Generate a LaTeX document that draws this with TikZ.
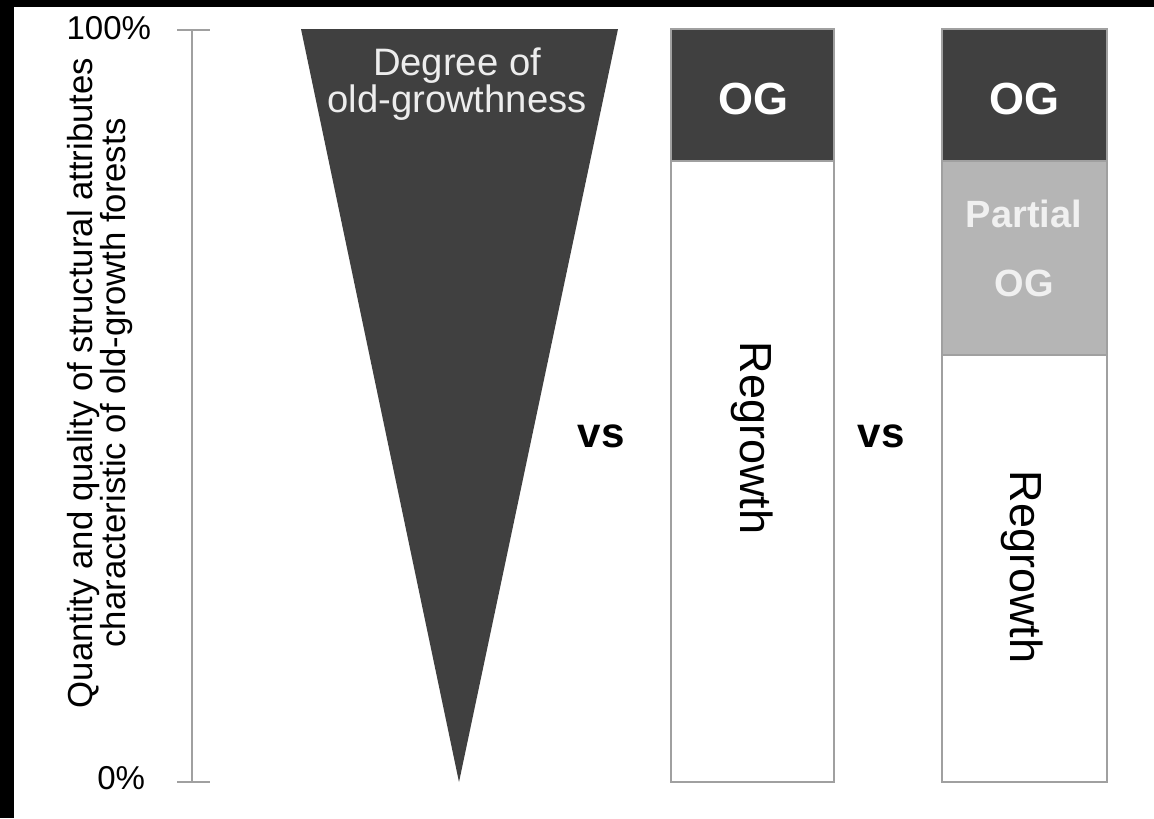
\documentclass[tikz,border=0pt]{standalone}
\usepackage{fontspec}
\setmainfont{Liberation Sans}
\usepackage{xcolor}
\usepackage{tikz}
\definecolor{ogdark}{HTML}{404040}
\definecolor{ogpart}{HTML}{B5B5B5}
\definecolor{rimgray}{HTML}{A0A0A0}

\begin{document}
\begin{tikzpicture}[x=0.025cm,y=-0.025cm,
	rim/.style={draw=rimgray, line width=1.3pt},
	boldlbl/.style={font=\fontsize{30}{34}\selectfont\bfseries},
	regrow/.style={font=\fontsize{32}{36}\selectfont, rotate=-90}]
	\useasboundingbox (0,0) rectangle (1154,818);
	\fill[black] (0,0) rectangle (1154,818);
	\fill[white] (14,7) rectangle (1154,818);
	% axis
	\coordinate (top) at (192,30);
	\coordinate (bot) at (192,782);
	\draw[rimgray, line width=1.3pt] (top) -- (bot);
	\draw[rimgray, line width=1.3pt] (177,30) -- (210,30);
	\draw[rimgray, line width=1.3pt] (177,782) -- (210,782);
	\node[anchor=east, font=\fontsize{23.5}{26}\selectfont] (hundred) at (156,28) {100\%};
	\node[anchor=east, font=\fontsize{23.5}{26}\selectfont] (zero) at (150,778) {0\%};
	\node[rotate=90, align=center, font=\fontsize{24.7}{23}\selectfont] (ylabel) at (100,383)
		{Quantity and quality of structural attributes\\characteristic of old-growth forests};
	% wedge
	\fill[ogdark] (301,29) -- (618,29) -- (459,782) -- cycle;
	\node[align=center, text=white!93!black, font=\fontsize{27.2}{25}\selectfont] (degree) at (457,84)
		{Degree of\\old-growthness};
	\node[boldlbl] (vsone) at (601,436) {vs};
	% first bar
	\fill[white] (671,29) rectangle (834,782);
	\fill[ogdark] (671,29) rectangle (834,161);
	\draw[rim] (671,29) rectangle (834,782);
	\draw[rim] (671,161) -- (834,161);
	\node[boldlbl, text=white, font=\fontsize{32}{34}\selectfont\bfseries] (ogone) at (753,99) {OG};
	\node[regrow] (regone) at (752,438) {Regrowth};
	\node[boldlbl] (vstwo) at (881,436) {vs};
	% second bar
	\fill[white] (942,29) rectangle (1107,782);
	\fill[ogdark] (942,29) rectangle (1107,161);
	\fill[ogpart] (942,161) rectangle (1107,355);
	\draw[rim] (942,29) rectangle (1107,782);
	\draw[rim] (942,161) -- (1107,161);
	\draw[rim] (942,355) -- (1107,355);
	\node[boldlbl, text=white, font=\fontsize{32}{34}\selectfont\bfseries] (ogtwo) at (1024,99) {OG};
	\node[align=center, text=white!94!black, font=\fontsize{27}{49}\selectfont\bfseries] (partial) at (1024,248)
		{Partial\\OG};
	\node[regrow] (regtwo) at (1022,567) {Regrowth};
\end{tikzpicture}
\end{document}
